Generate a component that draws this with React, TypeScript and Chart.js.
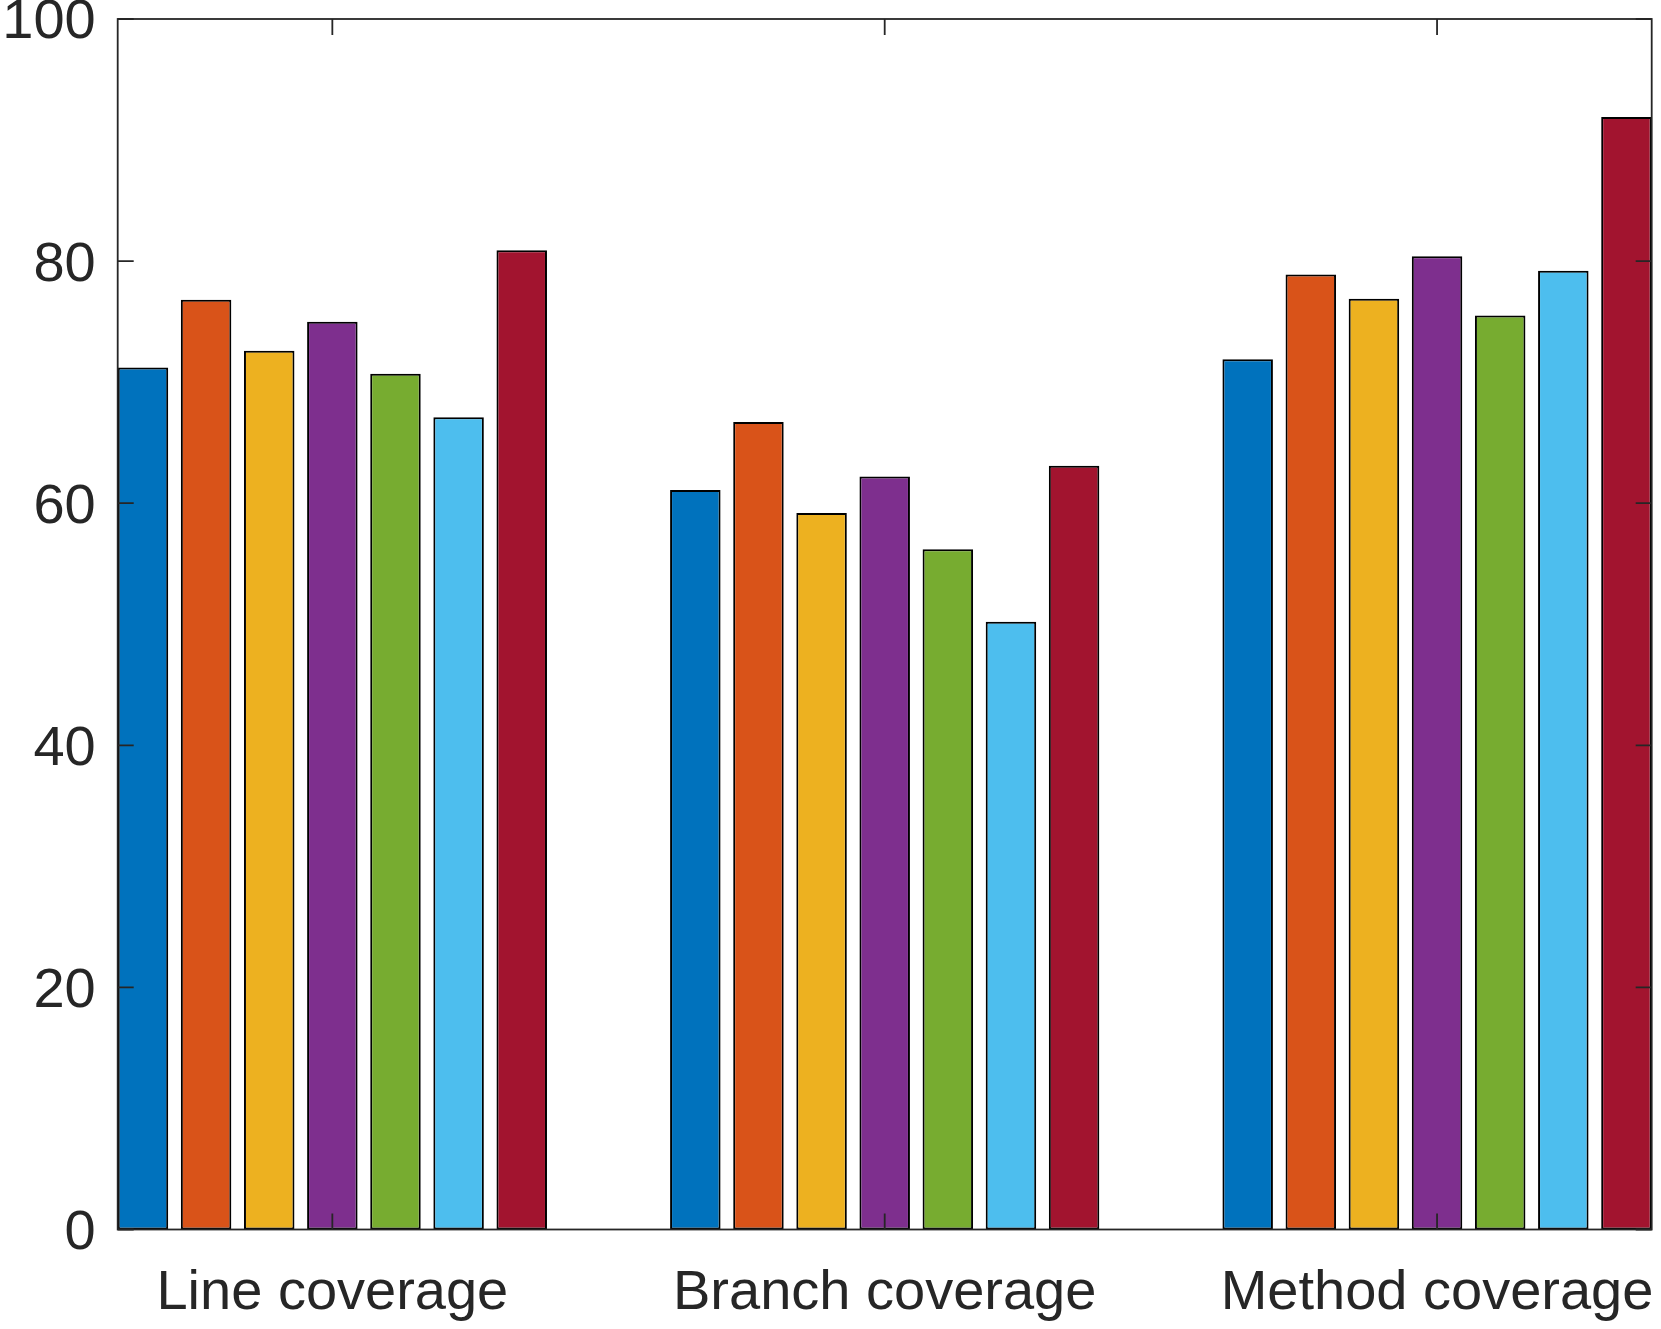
import React, { useEffect, useRef } from "react";
import { Chart, registerables } from "chart.js";

Chart.register(...registerables);

const categories = ["Line coverage", "Branch coverage", "Method coverage"];
const series1 = [71.2, 61.1, 71.9];
const series2 = [76.8, 66.7, 78.9];
const series3 = [72.6, 59.2, 76.9];
const series4 = [75.0, 62.2, 80.4];
const series5 = [70.7, 56.2, 75.5];
const series6 = [67.1, 50.2, 79.2];
const series7 = [80.9, 63.1, 91.9];
const seriesColors = ["#0072BD", "#D95319", "#EDB120", "#7E2F8E", "#77AC30", "#4DBEEE", "#A2142F"];
const yTicks = [0, 20, 40, 60, 80, 100];

const allSeries = [series1, series2, series3, series4, series5, series6, series7];

const AXIS_COLOR = "#262626";
const FONT = "'Liberation Sans', Arial, sans-serif";

const boxPlugin = {
  id: "matlabBox",
  afterDraw(chart: any) {
    const { ctx, chartArea } = chart;
    const { left, right, top, bottom } = chartArea;
    const xs = chart.scales.x;
    const ys = chart.scales.y;
    const tl = 16;
    ctx.save();
    ctx.strokeStyle = AXIS_COLOR;
    ctx.lineWidth = 1.8;
    ctx.beginPath();
    yTicks.forEach((v) => {
      const y = ys.getPixelForValue(v);
      ctx.moveTo(left, y);
      ctx.lineTo(left + tl, y);
      ctx.moveTo(right, y);
      ctx.lineTo(right - tl, y);
    });
    categories.forEach((_, i) => {
      const x = xs.getPixelForValue(i + 1);
      ctx.moveTo(x, bottom);
      ctx.lineTo(x, bottom - tl);
      ctx.moveTo(x, top);
      ctx.lineTo(x, top + tl);
    });
    ctx.stroke();
    ctx.strokeRect(left, top, right - left, bottom - top);
    ctx.restore();
  },
};

export default function App() {
  const ref = useRef<HTMLCanvasElement | null>(null);

  useEffect(() => {
    document.body.style.margin = "0";
    const canvas = ref.current;
    if (!canvas) return;
    const chart = new Chart(canvas, {
      type: "bar",
      data: {
        datasets: allSeries.map((s, k) => ({
          label: "S" + (k + 1),
          data: s.map((v, i) => ({ x: i + 1, y: v })),
          backgroundColor: seriesColors[k],
          borderColor: "#000000",
          borderWidth: 2,
          borderSkipped: false,
          categoryPercentage: 0.8,
          barPercentage: 0.8,
        })) as any,
      },
      options: {
        responsive: false,
        animation: false,
        devicePixelRatio: 1,
        layout: { padding: { top: 19, right: 9.3, left: 0, bottom: 0 } },
        plugins: { legend: { display: false }, tooltip: { enabled: false } },
        scales: {
          x: {
            type: "linear",
            min: 0.6114,
            max: 3.3886,
            offset: false,
            grid: { display: false, drawTicks: false },
            border: { display: false },
            afterBuildTicks: (s: any) => {
              s.ticks = categories.map((_, i) => ({ value: i + 1 }));
            },
            afterFit: (s: any) => {
              s.height = 99.5;
              s.paddingLeft = 0;
              s.paddingRight = 0;
            },
            ticks: {
              autoSkip: false,
              maxRotation: 0,
              padding: 30,
              color: AXIS_COLOR,
              font: { family: FONT, size: 56 },
              callback: (v: any) => categories[Math.round(Number(v)) - 1] ?? "",
            },
          },
          y: {
            min: 0,
            max: 100,
            grid: { display: false, drawTicks: false },
            border: { display: false },
            afterBuildTicks: (s: any) => {
              s.ticks = yTicks.map((v) => ({ value: v }));
            },
            afterFit: (s: any) => {
              s.width = 117.7;
              s.paddingTop = 0;
              s.paddingBottom = 0;
            },
            ticks: {
              padding: 22,
              labelOffset: 4,
              color: AXIS_COLOR,
              font: { family: FONT, size: 56 },
            },
          },
        },
      },
      plugins: [boxPlugin],
    });
    return () => chart.destroy();
  }, []);

  return (
    <div style={{ width: 1661, height: 1329, background: "#fff" }}>
      <canvas ref={ref} width={1661} height={1329} style={{ display: "block", width: 1661, height: 1329 }} />
    </div>
  );
}
